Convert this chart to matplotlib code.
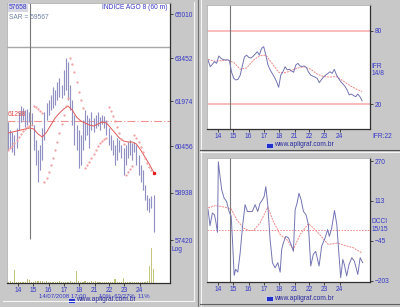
import numpy as np
import matplotlib.pyplot as plt
from matplotlib.lines import Line2D
from matplotlib.patches import Rectangle
from matplotlib.ticker import NullLocator

plt.rcParams['font.family'] = ['Liberation Sans', 'DejaVu Sans']

# ---- dados (barras de 60 min) ----
high = [61265, 60996, 60929, 60829, 61064, 61602, 61806, 61738, 61670, 61704,
        61602, 61568, 61164, 60662, 60330, 60496, 61064, 61602, 61908, 62010,
        62181, 62455, 62352, 62626, 62764, 62523, 63040, 63452, 63313, 62523,
        62010, 61501, 61164, 60996, 60829, 61332, 61670, 61501, 61400, 61602,
        61400, 61501, 61602, 61433, 61501, 61467, 61332, 61064, 60829, 60662,
        60496, 60729, 60662, 60496, 60397, 60496, 60596, 60662, 60563, 60596,
        60496, 60164, 59834, 59670, 59181, 58857, 58760, 58825, 58857]
low = [60330, 60397, 60264, 60164, 60397, 60996, 61265, 61332, 61097, 61164,
       61265, 61164, 60330, 59834, 59278, 59670, 59999, 60662, 61332, 61501,
       61670, 61738, 61840, 62010, 62113, 62079, 62181, 62352, 62010, 61670,
       61164, 60496, 60330, 59736, 59834, 60330, 60662, 60829, 60397, 60996,
       60929, 61064, 61131, 60996, 61198, 61064, 60829, 60496, 60330, 60164,
       59834, 59999, 60264, 60065, 59506, 59834, 60065, 60164, 59999, 60264,
       59834, 59506, 59278, 59019, 58695, 58374, 58310, 58438, 57672]
sar = [60330, 60397, 60463, 60563, 60662, 60762, 60863, 60963, 61030, 61097,
       61131, 61164, 61806, 61772, 61704, 61636, 61568, 59278, 59408, 59604,
       59834, 60065, 60330, 60596, 60896, 61198, 61501, 61806, 62079, 63452,
       63245, 62971, 62626, 62284, 62010, 61738, 59736, 59834, 59933, 60065,
       60197, 60330, 60463, 60563, 60629, 60696, 60729, 61772, 61636, 61467,
       61299, 61097, 60896, 60696, 60529, 59506, 59604, 59703, 59801, 60829,
       60729, 60596, 60430, 60264, 60065, 59900, 59768, 59670, 59567]
media = [60896, 60929, 60963, 60996, 61030, 61064, 61030, 60863, 60762, 60929,
         61164, 61400, 61568, 61704, 61806, 61670, 61433, 61299, 61231, 61164,
         61131, 61198, 61265, 61231, 61064, 60896, 60729, 60629, 60596, 60596,
         60529, 60330, 60098, 59867, 59604]
volume = [1.0, 1.8, 1.0, 13, 1.0, 1.5, 1.0, 1.0, 1.5, 4.0,
          3.0, 1.0, 1.0, 1.8, 2.0, 1.8, 2.0, 1.0, 1.8, 1.0,
          1.0, 1.0, 1.0, 1.0, 1.8, 1.0, 1.0, 1.0, 1.0, 1.8,
          1.0, 1.0, 12, 1.8, 1.0, 1.0, 1.8, 1.0, 1.0, 1.8,
          1.0, 1.8, 1.0, 1.0, 1.0, 1.0, 1.0, 1.0, 1.0, 1.0,
          4.0, 1.0, 1.0, 1.0, 5.0, 1.0, 1.0, 1.0, 1.0, 1.0,
          1.0, 1.0, 1.0, 1.0, 1.0, 2.0, 17, 35, 14]

ifr = [56, 50.5, 52.5, 54.6, 53.3, 59.3, 57.4, 56.5, 56, 56.3,
       55.5, 46, 41, 39.7, 40.2, 43.5, 51, 58.5, 60, 58.2,
       57.6, 59, 60.9, 62.8, 60.1, 65.6, 66.9, 60.1, 52, 48,
       45, 42, 38.5, 33.7, 43.7, 46.4, 50.5, 48, 48.5, 47,
       46, 51.9, 53.3, 51, 50.8, 51.1, 49.8, 46, 43.7, 42.8,
       42, 41, 37.5, 40, 42.2, 43.7, 45, 46.4, 45.1, 48.4,
       44, 41, 38.3, 36.5, 34.5, 31.5, 27.5, 28.2, 27, 26,
       28.2, 26, 22.7]
ifr_media_x = [0, 3, 6, 9, 12, 15, 18, 21, 24, 27, 30, 33, 36, 39, 42, 45, 48,
               51, 54, 57, 60, 63, 66, 69, 72]
ifr_media = [56.6, 55, 55.5, 56, 54, 48.5, 49.5, 55.5, 59.5, 60, 53, 46, 45.6,
             47.5, 49.5, 50.5, 48.5, 44.5, 42.5, 42, 42.5, 39, 35.5, 32.5, 30.2]

dcci_x = [0, 0.9, 2.0, 3.0, 3.6, 4.4, 4.8, 5.6, 6.4, 7.5, 8.7, 9.8, 10.8, 11.4,
          12.2, 12.9, 13.9, 15.0, 16.1, 17.3, 18.4, 19.6, 20.7, 22.0, 23.2, 24.3,
          25.4, 26.2, 27.0, 27.9, 29.0, 30.1, 31.3, 32.6, 33.7, 34.4, 35.2, 36.3,
          37.6, 38.8, 39.9, 40.7, 41.6, 42.5, 43.5, 44.6, 45.8, 46.9, 48.0, 49.2,
          50.3, 51.9, 53.1, 54.7, 55.9, 56.7, 57.8, 59.1, 60.2, 60.9, 62.0, 63.0,
          63.7, 64.8, 65.9, 67.2, 68.4, 70.0, 71.1, 72.3]
dcci = [78, 15, 65, 58, 32, -11, 267, 208, 156, 124, 110, 71, 52, -40,
        -181, -157, -168, -92, 12, 98, 71, 71, 71, 98, 71, 104,
        117, 130, 169, 98, -40, -131, -151, -131, -168, -79, -53, -27,
        -33, -59, -86, 78, 104, 143, 117, 71, 58, 19, -144, -98,
        -86, -144, -66, -33, 0, -27, 6, 75, 19, -66, -190, -118,
        -138, -183, -138, -111, -125, -177, -111, -131]
dcci_media_x = [0, 3.3, 6.4, 10.8, 13.4, 16.5, 18.9, 21.2, 24.3, 27.9, 30.5, 33.7,
                36.8, 39.9, 43.0, 46.9, 50.0, 53.1, 56.2, 60.6, 64.0, 67.9, 71.8]
dcci_media = [85, 94, 91, 81, 39, 6, -4, -4, 26, 88, 32, -20, -40, -79, -20, 23,
              0, -29, -59, -53, -63, -72, -92]

dias = ['14', '15', '16', '17', '18', '21', '22', '23', '24']
dias_pos = [4.6, 11.7, 19.0, 26.2, 33.3, 40.5, 47.2, 54.3, 61.5]
precos_ticks = [57420, 58938, 60456, 61974, 63452, 65010]
cursor = 10.4

azul = '#3838c8'
fs = 4.8

fig = plt.figure(figsize=(4, 3.07), dpi=100)
fig.patch.set_facecolor('#c8c8c8')


def px(x, y):
    return x / 400, 1 - y / 307


# molduras do fundo
for (x0, y0), (x1, y1), c in [((3, 301), (194, 301), '#f4f4f4'),
                              ((194, 2), (194, 301), '#f4f4f4'),
                              ((198, 0), (198, 307), '#707070'),
                              ((201, 0), (201, 307), '#f4f4f4'),
                              ((200, 150), (400, 150), '#505050'),
                              ((200, 152), (400, 152), '#f4f4f4'),
                              ((200, 304), (400, 304), '#606060')]:
    a, b = px(x0, y0)
    c2, d = px(x1, y1)
    fig.add_artist(Line2D([a, c2], [b, d], color=c, lw=0.8))


def estilo(ax):
    ax.set_facecolor('white')
    for s in ['left', 'top']:
        ax.spines[s].set_color('#b0b0b0')
        ax.spines[s].set_linewidth(0.6)
    for s in ['right', 'bottom']:
        ax.spines[s].set_color('#303030')
        ax.spines[s].set_linewidth(0.9)
    ax.yaxis.tick_right()
    ax.tick_params(axis='both', labelsize=fs, labelcolor=azul, length=2,
                   width=0.6, pad=1.2, color='#303030')
    ax.set_xlim(-0.5, 75.7)
    ax.set_xticks(dias_pos)
    ax.set_xticklabels(dias)


def rodape(xc, y):
    a, b = px(xc - 30, y + 3)
    fig.add_artist(Rectangle((a, b), 7 / 400, 5 / 307, transform=fig.transFigure,
                             facecolor='#2030c8', edgecolor='white', lw=0.4))
    a, b = px(xc - 22, y)
    fig.text(a, b, 'www.apligraf.com.br', fontsize=fs, color='#2828a0', va='center')


# ---- painel de preços ----
ax = fig.add_axes([7 / 400, 24 / 307, 163 / 400, 280 / 307])
estilo(ax)
ax.set_yscale('log')
ax.set_ylim(56080, 65404)
ax.yaxis.set_minor_locator(NullLocator())

# volume no rodapé do mesmo painel (eixo gêmeo escondido)
axv = ax.twinx()
axv.set_ylim(0, 280)
axv.bar(range(len(volume)), volume, width=0.55, color='#c4c47c')
axv.set_yticks([])
for s in axv.spines.values():
    s.set_visible(False)
axv.set_zorder(ax.get_zorder() - 1)
ax.set_zorder(axv.get_zorder() + 1)
ax.patch.set_visible(False)
axv.patch.set_visible(True)
axv.patch.set_facecolor('white')

ax.set_yticks(precos_ticks)
ax.set_yticklabels([str(v) for v in precos_ticks])
ax.yaxis.tick_right()

x = np.arange(len(high))
ax.axhline(63842, color='#a8a8a8', lw=1.0)
ax.axhline(61298, color='#f09090', lw=0.8, ls=(0, (7, 2, 1, 2)))
ax.vlines(cursor, 57450, 65404, color='#787878', lw=0.8)
ax.vlines(x, low, high, color='#d4d4ea', lw=1.0)
ax.vlines(x, low, high, color='#7c7cb8', lw=0.55)
ax.plot(np.arange(0, len(high), 2), media, color='#e05858', lw=0.7)
ax.plot(x, sar, ls='none', marker='.', ms=1.2, color='#f29a9a')
ax.plot(x[-1], sar[-1], ls='none', marker='s', ms=1.4, color='#e02020')
ax.text(-0.2, 61400, '61298', color='#e04848', fontsize=fs, va='bottom')
ax.text(0.5, 64900, 'SAR = 59567', color='#7080a8', fontsize=fs, va='center')
ax.text(0.3, 65230, '57658', color=azul, fontsize=fs, va='center',
        bbox=dict(boxstyle='square,pad=0.15', fc='#d8d8e4', ec='none'))
ax.text(74.5, 65230, 'INDICE AGO 8 (60 m)', color=azul, fontsize=fs,
        va='center', ha='right')
ax.text(1.012, 57120, 'Log', transform=ax.get_yaxis_transform(), color=azul,
        fontsize=fs, va='center', ha='left')
a, b = px(39, 296.5)
fig.text(a, b, '14/07/2008 17:00        10%  63/27%  11%', fontsize=4.3,
         color=azul, va='center')
rodape(98, 299.5)

# ---- IFR ----
ax2 = fig.add_axes([207 / 400, 178 / 307, 163 / 400, 124 / 307])
estilo(ax2)
ax2.set_ylim(-0.4, 101)
ax2.set_yticks([20, 80])
ax2.axhline(80, color='#f6b0b0', lw=1.2)
ax2.axhline(20, color='#f6b0b0', lw=1.2)
ax2.axvline(cursor, color='#787878', lw=0.8)
ax2.plot(ifr_media_x, ifr_media, color='#f08888', lw=0.7, ls=(0, (2, 1)))
ax2.plot(np.arange(len(ifr)), ifr, color='#7474b4', lw=0.7)
ax2.text(1.01, 51, 'IFR', transform=ax2.get_yaxis_transform(), color=azul,
         fontsize=fs, va='center')
ax2.text(1.01, 45, '14/8', transform=ax2.get_yaxis_transform(), color=azul,
         fontsize=fs, va='center')
a, b = px(372, 136)
fig.text(a, b, 'IFR:22', fontsize=fs, color=azul, va='center')
rodape(296, 145)

# ---- DCCI ----
ax3 = fig.add_axes([207 / 400, 25 / 307, 163 / 400, 124 / 307])
estilo(ax3)
ax3.set_ylim(-207, 282)
ax3.set_yticks([-203, -45, 113, 270])
ax3.axhline(0, color='#f08888', lw=0.7, ls=(0, (1.5, 1.5)))
ax3.axvline(cursor, color='#787878', lw=0.8)
ax3.plot(dcci_media_x, dcci_media, color='#f08888', lw=0.7, ls=(0, (2, 1)))
ax3.plot(dcci_x, dcci, color='#7474b4', lw=0.7)
ax3.text(1.01, 32, 'DCCI', transform=ax3.get_yaxis_transform(), color=azul,
         fontsize=fs, va='center')
ax3.text(1.01, 2, '15/15', transform=ax3.get_yaxis_transform(), color=azul,
         fontsize=fs, va='center')
rodape(296, 298)

fig.savefig('out.png', dpi=100, facecolor=fig.get_facecolor())
